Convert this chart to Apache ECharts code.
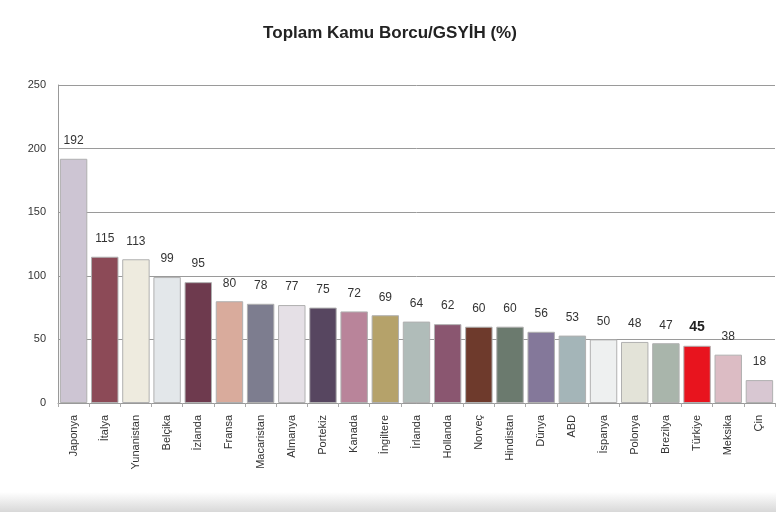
<!DOCTYPE html>
<html><head><meta charset="utf-8">
<script src="https://cdn.jsdelivr.net/npm/echarts@6/dist/echarts.min.js"></script>
<style>html,body{margin:0;padding:0;background:#fff}#c{width:776px;height:512px}</style>
</head><body><div id="c"></div>
<script>
var categories = ["Japonya","İtalya","Yunanistan","Belçika","İzlanda","Fransa","Macaristan","Almanya","Portekiz","Kanada","İngiltere","İrlanda","Hollanda","Norveç","Hindistan","Dünya","ABD","İspanya","Polonya","Brezilya","Türkiye","Meksika","Çin"];
var values = [192,115,113,99,95,80,78,77,75,72,69,64,62,60,60,56,53,50,48,47,45,38,18];
var colors = ["#cdc5d3","#8c4a57","#eeebdf","#e3e7ea","#6e3a4e","#d9ab9c","#7d7d8f","#e5e0e6","#574660","#b9849a","#b5a26a","#b0bcb9","#8a5670","#6e3a2c","#6b7a6e","#84789a","#a4b5b8","#eef0f0","#e3e3d8","#a9b5ab","#e8141e","#dcbcc4","#d8c7d2"];
var yTicks = [0,50,100,150,200,250];
var titleText = "Toplam Kamu Borcu/GSYİH (%)";

var chart = echarts.init(document.getElementById('c'), null, {renderer:'canvas'});
var data = values.map(function(v,i){
  var d = {value:v, itemStyle:{color:colors[i]}};
  if (categories[i] === "Türkiye") d.label = {fontWeight:'bold', fontSize:14, color:'#222'};
  return d;
});
chart.setOption({
  animation:false,
  backgroundColor:'#fff',
  title:{text:titleText, left:385, top:20, textAlign:'center',
    textStyle:{fontFamily:'Liberation Sans Narrow, Arial Narrow, sans-serif', fontSize:17, fontWeight:'bold', color:'#222'}},
  grid:{left:58, right:1, top:85, bottom:109, containLabel:false},
  xAxis:{type:'category', data:categories,
    axisLine:{lineStyle:{color:'#999'}},
    axisTick:{show:true, length:4, lineStyle:{color:'#aaa'}},
    axisLabel:{rotate:90, interval:0, fontSize:11, color:'#333', fontFamily:'Liberation Sans, Arial, sans-serif', margin:12}},
  yAxis:{type:'value', min:yTicks[0], max:yTicks[yTicks.length-1], interval:50,
    axisLine:{show:true, lineStyle:{color:'#999'}},
    axisTick:{show:false},
    splitLine:{lineStyle:{color:'#9a9a9a'}},
    axisLabel:{fontSize:11, color:'#333', fontFamily:'Liberation Sans, Arial, sans-serif', margin:12}},
  graphic:[{type:'rect', left:0, top:492, shape:{width:776, height:20},
    style:{fill:new echarts.graphic.LinearGradient(0,0,0,1,[{offset:0,color:'#ffffff'},{offset:1,color:'#d8d8d8'}])}, silent:true}],
  series:[{type:'bar', data:data, barCategoryGap:'12%',
    itemStyle:{borderColor:'#b0b0b0', borderWidth:1},
    label:{show:true, position:'top', distance:12, fontSize:12, color:'#333', fontFamily:'Liberation Sans, Arial, sans-serif'}}]
});
</script></body></html>
